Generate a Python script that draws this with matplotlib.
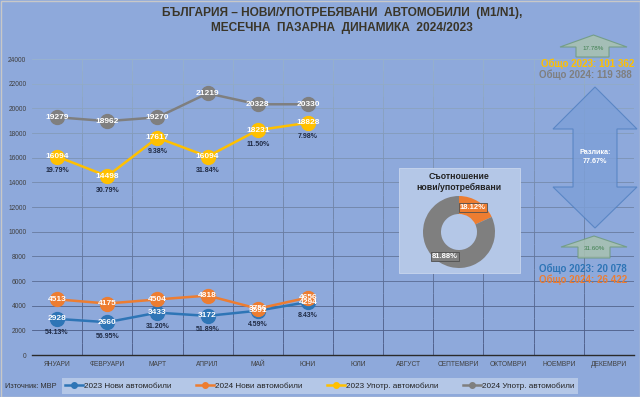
import numpy as np
import matplotlib
matplotlib.use("Agg")
import matplotlib.pyplot as plt
from matplotlib.patches import Polygon, Rectangle
from matplotlib.collections import LineCollection

plt.rcParams['font.family'] = ['Liberation Sans', 'DejaVu Sans']

months = ['ЯНУАРИ', 'ФЕВРУАРИ', 'МАРТ', 'АПРИЛ', 'МАЙ', 'ЮНИ', 'ЮЛИ', 'АВГУСТ',
          'СЕПТЕМВРИ', 'ОКТОМВРИ', 'НОЕМВРИ', 'ДЕКЕМВРИ']
new_2023 = [2928, 2660, 3433, 3172, 3591, 4294]
new_2024 = [4513, 4175, 4504, 4818, 3756, 4656]
used_2023 = [16094, 14498, 17617, 16094, 18231, 18828]
used_2024 = [19279, 18962, 19270, 21219, 20328, 20330]
share_values = [18.12, 81.88]

BG = '#8EA9DB'
LIGHT = '#B4C7E7'
C_BLUE = '#2E75B6'
C_ORANGE = '#ED7D31'
C_YELLOW = '#FFC000'
C_GRAY = '#7F7F7F'
TXT = '#3A3528'

W, H = 640, 397
fig = plt.figure(figsize=(6.4, 3.97), dpi=100, facecolor=BG)

ax = fig.add_axes([32 / W, 1 - 355 / H, 602 / W, 296 / H])
ax.set_facecolor(BG)
x = np.arange(len(new_2023))

series = [(new_2023, C_BLUE, '2023 Нови автомобили'),
          (new_2024, C_ORANGE, '2024 Нови автомобили'),
          (used_2023, C_YELLOW, '2023 Употр. автомобили'),
          (used_2024, C_GRAY, '2024 Употр. автомобили')]
for vals, col, lab in series:
    ax.plot(x, vals, color=col, lw=1.8, marker='o', ms=10, mec=col, label=lab, zorder=3)
    for xi, v in zip(x, vals):
        ax.text(xi, v, str(v), ha='center', va='center', fontsize=6, color='white',
                fontweight='bold', zorder=4)

# percentage changes below the 2023 points
for base, comp in [(new_2023, new_2024), (used_2023, used_2024)]:
    for xi, b, c in zip(x, base, comp):
        pct = (c / b - 1) * 100
        ax.annotate(f'{pct:.2f}%', (xi, b), xytext=(0, -10), textcoords='offset points',
                    ha='center', va='center', fontsize=5, color='#1F2A44',
                    fontweight='bold', zorder=4)

ax.set_xlim(-0.5, 11.5)
ax.set_ylim(0, 24000)
ax.set_yticks(range(0, 24001, 2000))
ax.set_xticks(range(12))
ax.set_xticklabels(months)
ax.tick_params(axis='both', length=0, labelsize=4.8, labelcolor='#404040', pad=4)


def grid_col(t):
    return (0.27 + 0.33 * t, 0.33 + 0.37 * t, 0.5 + 0.3 * t)


for v in range(2000, 24001, 2000):
    ax.axhline(v, color=grid_col(v / 24000), lw=0.6, zorder=1)
segs, cols = [], []
for k in range(1, 12):
    for j in range(24):
        y0, y1 = j * 1000, (j + 1) * 1000
        segs.append([(k - 0.5, y0), (k - 0.5, y1)])
        cols.append(grid_col((y0 + 500) / 24000))
ax.add_collection(LineCollection(segs, colors=cols, linewidths=0.6, zorder=1))
for s in ['top', 'right', 'left']:
    ax.spines[s].set_visible(False)
ax.spines['bottom'].set_color('#2B2B2B')
ax.spines['bottom'].set_linewidth(1.0)

# overlay in pixel coordinates
ov = fig.add_axes([0, 0, 1, 1], facecolor='none', zorder=5)
ov.set_xlim(0, W)
ov.set_ylim(H, 0)
ov.axis('off')
ov.add_patch(Rectangle((0.5, 0.5), W - 1, H - 1, fill=False, ec='#C8C8C8', lw=1))

ov.text(342, 13, 'БЪЛГАРИЯ – НОВИ/УПОТРЕБЯВАНИ  АВТОМОБИЛИ  (M1/N1),', ha='center', va='center',
        fontsize=8.6, fontweight='bold', color=TXT)
ov.text(342, 28, 'МЕСЕЧНА  ПАЗАРНА  ДИНАМИКА  2024/2023', ha='center', va='center',
        fontsize=8.6, fontweight='bold', color=TXT)


def arrow_up(x0, x1, s0, s1, tip, base, bottom, fc, ec):
    cx = (x0 + x1) / 2
    pts = [(cx, tip), (x1, base), (s1, base), (s1, bottom), (s0, bottom), (s0, base), (x0, base)]
    ov.add_patch(Polygon(pts, closed=True, fc=fc, ec=ec, lw=0.8, alpha=0.85))


arrow_up(560, 627, 576, 609, 35, 47, 57, '#A9C2B0', '#6E9A7E')
ov.text(593, 49, '17.78%', ha='center', va='center', fontsize=4.5, color='#3F7F4F')
arrow_up(561, 627, 578, 610, 236, 247, 258, '#A9C2B0', '#6E9A7E')
ov.text(594, 248, '31.60%', ha='center', va='center', fontsize=4.5, color='#3F7F4F')

# double arrow
dpts = [(595, 87), (637, 129), (617, 129), (617, 187), (637, 187), (595, 228),
        (553, 187), (573, 187), (573, 129), (553, 129)]
ov.add_patch(Polygon(dpts, closed=True, fc='#7DA0D8', ec='#4F7FC0', lw=0.8, alpha=0.8))
ov.text(595, 157, 'Разлика:\n77.67%', ha='center', va='center', fontsize=5.2,
        color='white', fontweight='bold', linespacing=1.3)

ov.text(634, 64, 'Общо 2023: 101 362', ha='right', va='center', fontsize=7,
        fontweight='bold', color=C_YELLOW)
ov.text(632, 75, 'Общо 2024: 119 388', ha='right', va='center', fontsize=7,
        fontweight='bold', color=C_GRAY)
ov.text(627, 269, 'Общо 2023: 20 078', ha='right', va='center', fontsize=7,
        fontweight='bold', color=C_BLUE)
ov.text(627, 280, 'Общо 2024: 26 422', ha='right', va='center', fontsize=7,
        fontweight='bold', color=C_ORANGE)

# pie box
ov.add_patch(Rectangle((399, 168), 121, 105, fc=LIGHT, ec='#C9D6EE', lw=0.6))
ov.text(459, 182, 'Съотношение\nнови/употребявани', ha='center', va='center', fontsize=6.3,
        fontweight='bold', color='#222222', linespacing=1.15)

ov.text(5, 386, 'Източник: МВР', ha='left', va='center', fontsize=5.3, color='#303030')

pax = fig.add_axes([(459 - 36) / W, 1 - (232 + 36) / H, 72 / W, 72 / H], zorder=6)
pax.pie(share_values, colors=[C_ORANGE, C_GRAY], startangle=90, counterclock=False,
        wedgeprops=dict(width=0.5, edgecolor='none'))
pax.set_xlim(-1, 1)
pax.set_ylim(-1, 1)
pax.set_aspect('equal')
pax.text(0.38, 0.68, f'{share_values[0]:.2f}%', ha='center', va='center', fontsize=5.5,
         color='white', fontweight='bold',
         bbox=dict(boxstyle='square,pad=0.12', fc=C_ORANGE, ec='#505050', lw=0.6))
pax.text(-0.4, -0.68, f'{share_values[1]:.2f}%', ha='center', va='center', fontsize=5.5,
         color='white', fontweight='bold',
         bbox=dict(boxstyle='square,pad=0.12', fc=C_GRAY, ec='#505050', lw=0.6))

# legend
handles, labels = ax.get_legend_handles_labels()
leg = fig.legend(handles, labels, loc='center', bbox_to_anchor=(320 / W, 1 - 386 / H), ncol=4,
                 fontsize=5.9, frameon=True, fancybox=False, handlelength=2.2,
                 columnspacing=3.0, handletextpad=0.1, borderpad=0.45, markerscale=0.4,
                 borderaxespad=0)
leg.get_frame().set_facecolor(LIGHT)
leg.get_frame().set_edgecolor('none')
leg.get_frame().set_alpha(1)
leg.set_zorder(7)
for t in leg.get_texts():
    t.set_color('#222222')

fig.savefig('out.png', dpi=100, facecolor=BG)
